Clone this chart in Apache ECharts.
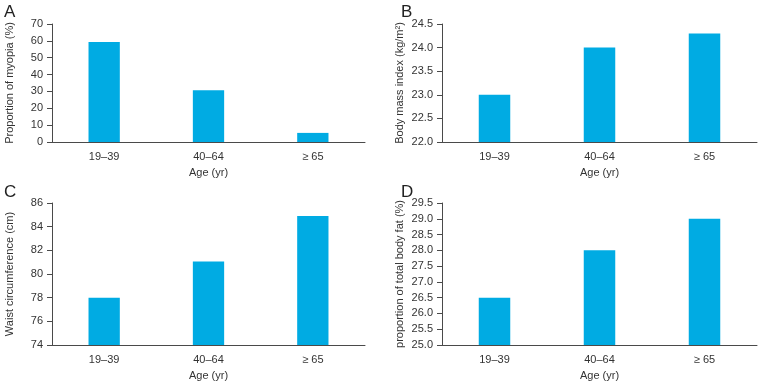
<!DOCTYPE html>
<html>
<head>
<meta charset="utf-8">
<script src="https://cdn.jsdelivr.net/npm/echarts@6/dist/echarts.min.js"></script>
<style>
html, body { margin: 0; padding: 0; background: #fff; }
#chart { width: 765px; height: 384px; }
</style>
</head>
<body>
<div id="chart"></div>
<script>
// age groups shared by all four panels
const ageGroups = ['19–39', '40–64', '≥ 65']
const myopia = [59.3, 30.7, 5.4]
const bmi = [23.0, 24.0, 24.3]
const waist = [78.0, 81.05, 84.9]
const bodyFat = [26.5, 28.0, 29.0]

const FONT = '"Liberation Sans", Arial, Helvetica, sans-serif'
const BAR = '#00abe3'
const AXIS = '#4a4a4a'
const TEXT = '#333'

const grids = [
	{ left: 52, right: 400, top: 24, bottom: 242 },
	{ left: 442, right: 8, top: 24, bottom: 242 },
	{ left: 52, right: 400, top: 203, bottom: 39 },
	{ left: 442, right: 8, top: 203, bottom: 39 }
]

function xAxis(i) {
	return {
		type: 'category',
		gridIndex: i,
		data: ageGroups,
		name: 'Age (yr)',
		nameLocation: 'middle',
		nameGap: 25,
		nameTextStyle: { color: TEXT, fontSize: 11, fontFamily: FONT },
		axisLine: { lineStyle: { color: AXIS, width: 1 } },
		axisTick: { alignWithLabel: true, length: 5, lineStyle: { color: AXIS } },
		axisLabel: { color: TEXT, fontSize: 11, fontFamily: FONT, margin: 9 }
	}
}

function yAxis(i, name, min, max, interval, decimals) {
	return {
		type: 'value',
		gridIndex: i,
		min: min,
		max: max,
		interval: interval,
		name: name,
		nameLocation: 'middle',
		nameGap: 37,
		nameTextStyle: { color: TEXT, fontSize: 11, fontFamily: FONT },
		axisLine: { show: true, lineStyle: { color: AXIS, width: 1 } },
		axisTick: { show: true, length: 5, lineStyle: { color: AXIS } },
		splitLine: { show: false },
		axisLabel: {
			color: TEXT, fontSize: 11, fontFamily: FONT, margin: 9,
			formatter: v => v.toFixed(decimals)
		}
	}
}

function bars(i, data) {
	return {
		type: 'bar',
		xAxisIndex: i,
		yAxisIndex: i,
		data: data,
		barWidth: '30%',
		itemStyle: { color: BAR },
		silent: true
	}
}

const letters = [['A', 4, 4], ['B', 401, 4], ['C', 4, 184], ['D', 401, 184]]

const option = {
	backgroundColor: '#fff',
	animation: false,
	grid: grids,
	xAxis: [0, 1, 2, 3].map(xAxis),
	yAxis: [
		yAxis(0, 'Proportion of myopia (%)', 0, 70, 10, 0),
		yAxis(1, 'Body mass index (kg/m²)', 22, 24.5, 0.5, 1),
		yAxis(2, 'Waist circumference (cm)', 74, 86, 2, 0),
		yAxis(3, 'proportion of total body fat (%)', 25, 29.5, 0.5, 1)
	],
	series: [bars(0, myopia), bars(1, bmi), bars(2, waist), bars(3, bodyFat)],
	graphic: letters.map(l => ({
		type: 'text',
		left: l[1],
		top: l[2],
		style: { text: l[0], fontSize: 17, fontFamily: FONT, fill: '#222' }
	}))
}

const chart = echarts.init(document.getElementById('chart'))
chart.setOption(option)
</script>
</body>
</html>
